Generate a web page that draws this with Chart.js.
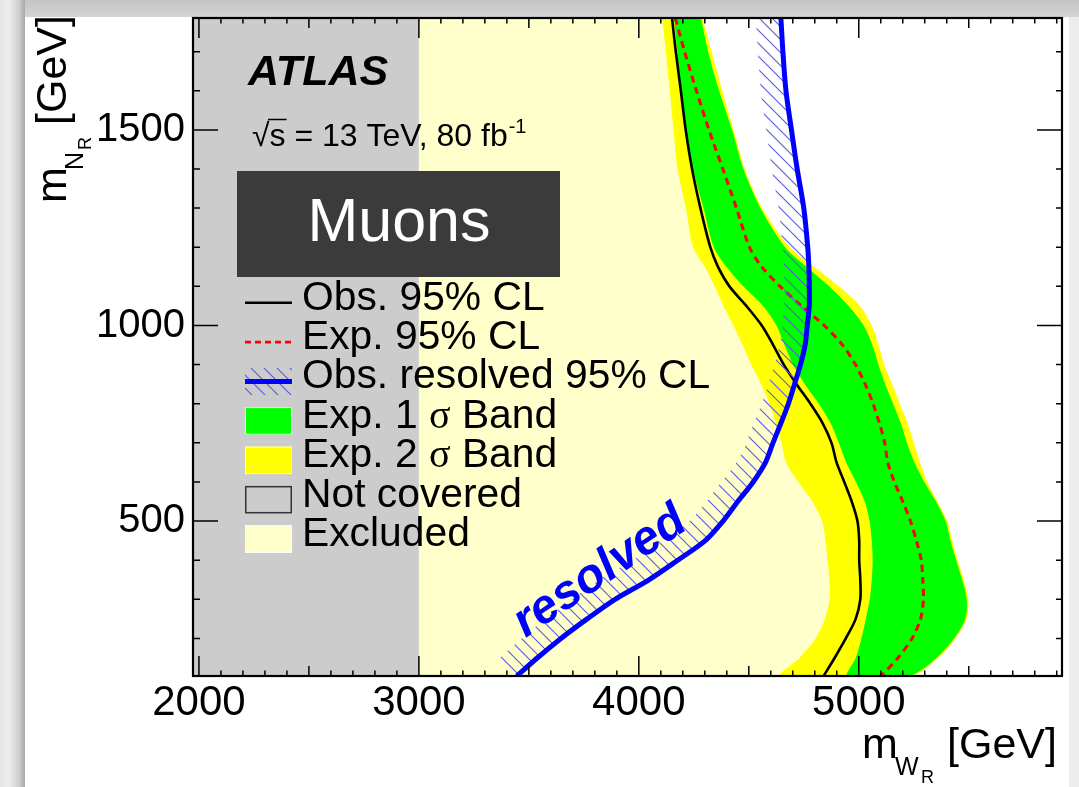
<!DOCTYPE html>
<html lang="en">
<head>
<meta charset="utf-8">
<title>W_R / N_R exclusion limits – muon channel</title>
<script src="https://cdn.jsdelivr.net/npm/chart.js@4.4.1/dist/chart.umd.min.js"></script>
<style>
  html, body { margin: 0; padding: 0; }
  body { width: 1079px; height: 787px; position: relative; overflow: hidden; background: #ececec; }
  .edge-top { position: absolute; left: 0; top: 0; width: 1079px; height: 17px; background: linear-gradient(to bottom, #c3c3c3, #d4d4d4); }
  .edge-left { position: absolute; left: 0; top: 0; width: 25px; height: 787px; background: linear-gradient(to right, #e3e3e3 0%, #eeeeee 35%, #cdcdcd 78%, #a6a6a6 100%); }
  .sheet { position: absolute; left: 25px; top: 17px; width: 1044px; height: 770px; background: #ffffff; }
  canvas { position: absolute; left: 0; top: 0; }
</style>
</head>
<body>
<div class="edge-top"></div>
<div class="edge-left"></div>
<div class="sheet"></div>
<canvas id="limits" width="1079" height="787"></canvas>
<script>
const SANS = "'Liberation Sans', Arial, Helvetica, sans-serif";
const SERIF = "'Liberation Serif', 'Times New Roman', serif";

// Axis ranges (GeV)
const mWRange = [1973, 5924];
const mNRange = [104, 1786];
const mWTicks = [2000, 3000, 4000, 5000];
const mNTicks = [500, 1000, 1500];
const minorStep = 100;

// Upper edge of the m(W_R) region not covered by this search (GeV)
const coverageEdge = 3000;

// m(N_R) values at which every contour is sampled (GeV)
const mN = [1786, 1700, 1600, 1500, 1400, 1300, 1200, 1150, 1100, 1050, 1000, 950, 900, 850,
            800, 750, 700, 650, 600, 550, 500, 450, 400, 350, 300, 250, 200, 150, 104];

// m(W_R) reach of each contour at those m(N_R) values (GeV)
const obsLimit = [4151, 4168, 4191, 4213, 4242, 4280, 4325, 4360, 4412, 4489, 4559, 4611, 4659, 4717,
                  4780, 4836, 4876, 4899, 4934, 4968, 4994, 5002, 5002, 5007, 5007, 4986, 4941, 4890, 4840];
const expLimit = [4166, 4208, 4262, 4319, 4382, 4444, 4503, 4559, 4642, 4739, 4843, 4926, 4985, 5029,
                  5065, 5094, 5118, 5132, 5162, 5200, 5235, 5262, 5284, 5291, 5294, 5281, 5242, 5178, 5101];
const exp1SigmaLow = [4160, 4175, 4193, 4216, 4247, 4294, 4341, 4398, 4475, 4565, 4626, 4662, 4701, 4755,
                      4818, 4872, 4909, 4943, 4987, 5027, 5049, 5059, 5063, 5059, 5050, 5032, 5012, 4986, 4950];
const exp1SigmaHigh = [4283, 4315, 4365, 4424, 4476, 4553, 4665, 4762, 4865, 4954, 5022, 5062, 5089, 5120,
                       5156, 5191, 5219, 5253, 5298, 5351, 5395, 5417, 5443, 5470, 5491, 5484, 5433, 5353, 5229];
const exp2SigmaLow = [4106, 4123, 4141, 4158, 4176, 4214, 4247, 4300, 4345, 4385, 4430, 4472, 4511, 4556,
                      4594, 4623, 4649, 4670, 4725, 4789, 4833, 4849, 4858, 4867, 4867, 4846, 4804, 4730, 4646];
const exp2SigmaHigh = [4289, 4331, 4380, 4431, 4482, 4561, 4685, 4796, 4909, 5005, 5059, 5090, 5115, 5152,
                       5186, 5222, 5250, 5279, 5311, 5358, 5402, 5425, 5450, 5477, 5498, 5490, 5440, 5360, 5236];
const resolvedObsLimit = [4646, 4655, 4669, 4694, 4720, 4750, 4768, 4773, 4775, 4775, 4766, 4756, 4735, 4708,
                          4680, 4646, 4610, 4576, 4520, 4450, 4383, 4302, 4177, 4046, 3892, 3765, 3646, 3538, 3445];

// Text
const experimentLabel = 'ATLAS';
const energyLumi = ['√', 's', ' = 13 TeV, 80 fb', '-1'];
const channelLabel = 'Muons';
const resolvedTag = 'resolved';
const legendLabels = ['Obs. 95% CL', 'Exp. 95% CL', 'Obs. resolved 95% CL',
                      'Exp. 1 σ Band', 'Exp. 2 σ Band', 'Not covered', 'Excluded'];

// Colours
const C = {
  obs: '#000000', exp: '#ff0000', resolved: '#0000ff', hatch: '#5a5ae2',
  one: '#00ff00', two: '#ffff00', excluded: '#ffffcc', notCovered: '#cccccc', box: '#3b3b3b'
};

// ---- helpers building point lists from the arrays above ----
const pts = xs => xs.map((v, i) => ({ x: v, y: mN[i] }));
const band = (lo, hi) => pts(lo).concat(pts(hi).reverse());
const excludedShape = [{ x: coverageEdge, y: mNRange[1] }, ...pts(obsLimit), { x: coverageEdge, y: mNRange[0] }];
const notCoveredShape = [
  { x: mWRange[0], y: mNRange[0] }, { x: mWRange[0], y: mNRange[1] },
  { x: coverageEdge, y: mNRange[1] }, { x: coverageEdge, y: mNRange[0] }
];

// Diagonal hatch used on the excluded side of the resolved contour
function makeHatch(color, s) {
  const c = document.createElement('canvas');
  c.width = s; c.height = s;
  const g = c.getContext('2d');
  g.strokeStyle = color; g.lineWidth = 1.1;
  g.beginPath();
  g.moveTo(-1, -1); g.lineTo(s + 1, s + 1);
  g.moveTo(s - 1, -1); g.lineTo(s + 1, 1);
  g.moveTo(-1, s - 1); g.lineTo(1, s + 1);
  g.stroke();
  return c;
}
const hatchTile = makeHatch(C.hatch, 13);
const hatchWidth = 25;

const common = { showLine: true, pointRadius: 0, pointHoverRadius: 0, clip: 0 };
const datasets = [
  { ...common, label: 'resolved', data: pts(resolvedObsLimit), borderColor: C.resolved, borderWidth: 5, tension: 0.3, fill: false, order: 1 },
  { ...common, label: 'obs', data: pts(obsLimit), borderColor: C.obs, borderWidth: 2.6, tension: 0.3, fill: false, order: 2 },
  { ...common, label: 'exp', data: pts(expLimit), borderColor: C.exp, borderWidth: 3, borderDash: [7, 5], tension: 0.3, fill: false, order: 3 },
  { ...common, label: 'exp1', data: band(exp1SigmaLow, exp1SigmaHigh), backgroundColor: C.one, borderWidth: 0, tension: 0.3, fill: 'shape', order: 4 },
  { ...common, label: 'exp2', data: band(exp2SigmaLow, exp2SigmaHigh), backgroundColor: C.two, borderWidth: 0, tension: 0.3, fill: 'shape', order: 5 },
  { ...common, label: 'excluded', data: excludedShape, backgroundColor: C.excluded, borderWidth: 0, tension: 0, fill: 'shape', order: 6 },
  { ...common, label: 'notCovered', data: notCoveredShape, backgroundColor: C.notCovered, borderWidth: 0, tension: 0, fill: 'shape', order: 7 }
];

// Hatched strip drawn just before the resolved contour, on its excluded (left) side
const resolvedHatch = {
  id: 'resolvedHatch',
  beforeDatasetDraw(chart, args) {
    if (chart.data.datasets[args.index].label !== 'resolved') return;
    const { ctx, chartArea: a } = chart;
    const line = args.meta.dataset;
    const p = args.meta.data;
    const first = p[0], last = p[p.length - 1];
    ctx.save();
    ctx.beginPath();
    ctx.rect(a.left, a.top, a.right - a.left, a.bottom - a.top);
    ctx.clip();
    ctx.beginPath();
    line.path(ctx);
    ctx.lineTo(last.x, a.bottom + 60);
    ctx.lineTo(a.left - 60, a.bottom + 60);
    ctx.lineTo(a.left - 60, a.top - 60);
    ctx.lineTo(first.x, a.top - 60);
    ctx.closePath();
    ctx.clip();
    ctx.beginPath();
    line.path(ctx);
    ctx.lineWidth = 2 * hatchWidth;
    ctx.lineJoin = 'round';
    ctx.strokeStyle = ctx.createPattern(hatchTile, 'repeat');
    ctx.stroke();
    ctx.restore();
  }
};

// Labels, channel box, legend and axis titles
const annotations = {
  id: 'annotations',
  afterDatasetsDraw(chart) {
    const { ctx } = chart;
    ctx.save();
    ctx.textAlign = 'left';
    ctx.textBaseline = 'alphabetic';

    // tag along the resolved contour
    ctx.save();
    ctx.translate(600, 572);
    ctx.rotate(-34 * Math.PI / 180);
    ctx.font = `bold italic 48px ${SANS}`;
    ctx.fillStyle = C.resolved;
    ctx.textAlign = 'center';
    ctx.textBaseline = 'middle';
    ctx.fillText(resolvedTag, 0, 0);
    ctx.restore();

    // experiment label
    ctx.fillStyle = '#000';
    ctx.font = `bold italic 43px ${SANS}`;
    ctx.fillText(experimentLabel, 248, 85);

    // centre-of-mass energy and luminosity
    ctx.font = `32px ${SANS}`;
    let x = 252;
    const base = 146;
    ctx.fillText(energyLumi[0], x, base);
    x += ctx.measureText(energyLumi[0]).width;
    const sW = ctx.measureText(energyLumi[1]).width;
    ctx.fillText(energyLumi[1], x, base);
    ctx.lineWidth = 1.5;
    ctx.strokeStyle = '#000';
    ctx.beginPath();
    ctx.moveTo(x - 1.5, 119.5); ctx.lineTo(x + sW + 1, 119.5);
    ctx.stroke();
    x += sW;
    ctx.fillText(energyLumi[2], x, base);
    x += ctx.measureText(energyLumi[2]).width;
    ctx.font = `20px ${SANS}`;
    ctx.fillText(energyLumi[3], x + 1, 133);

    // channel box
    ctx.fillStyle = C.box;
    ctx.fillRect(237, 171, 323, 106);
    ctx.fillStyle = '#ffffff';
    ctx.font = `61px ${SANS}`;
    ctx.textAlign = 'center';
    ctx.fillText(channelLabel, 399, 241);
    ctx.textAlign = 'left';

    // legend
    const lx0 = 245, lw = 47, tx = 302;
    const hatchPattern = ctx.createPattern(hatchTile, 'repeat');
    legendLabels.forEach((label, i) => {
      const cy = 302.7 + i * 39.4;
      ctx.save();
      if (i === 0 || i === 1) {
        ctx.strokeStyle = i === 0 ? C.obs : C.exp;
        ctx.lineWidth = 2.6;
        if (i === 1) ctx.setLineDash([6, 4]);
        ctx.beginPath(); ctx.moveTo(lx0, cy); ctx.lineTo(lx0 + lw, cy); ctx.stroke();
      } else if (i === 2) {
        ctx.fillStyle = hatchPattern;
        ctx.fillRect(lx0, cy - 13.5, lw, 27);
        ctx.strokeStyle = C.resolved; ctx.lineWidth = 5;
        ctx.beginPath(); ctx.moveTo(lx0, cy); ctx.lineTo(lx0 + lw, cy); ctx.stroke();
      } else {
        const fills = { 3: C.one, 4: C.two, 5: C.notCovered, 6: C.excluded };
        ctx.fillStyle = fills[i];
        ctx.fillRect(lx0, cy - 13.8, lw, 27.6);
        if (i === 5) {
          ctx.strokeStyle = '#333'; ctx.lineWidth = 1.5;
          ctx.strokeRect(lx0 + 0.75, cy - 13, lw - 1.5, 26);
        } else {
          ctx.strokeStyle = 'rgba(255,255,255,0.8)'; ctx.lineWidth = 1;
          ctx.strokeRect(lx0 + 0.5, cy - 13.3, lw - 1, 26.6);
        }
      }
      ctx.restore();
      ctx.fillStyle = '#000';
      const ty = cy + 6.8;
      const parts = label.split('σ');
      ctx.font = `40.8px ${SANS}`;
      if (parts.length === 1) {
        ctx.fillText(label, tx, ty);
      } else {
        let px = tx;
        ctx.fillText(parts[0], px, ty);
        px += ctx.measureText(parts[0]).width;
        ctx.font = `40px ${SERIF}`;
        ctx.fillText('σ', px, ty);
        px += ctx.measureText('σ').width;
        ctx.font = `40.8px ${SANS}`;
        ctx.fillText(parts[1], px, ty);
      }
    });

    // x-axis title: m_{W_R} [GeV]
    ctx.fillStyle = '#000';
    ctx.font = `43px ${SANS}`; ctx.fillText('m', 862, 758);
    ctx.font = `25px ${SANS}`; ctx.fillText('W', 895, 775);
    ctx.font = `18px ${SANS}`; ctx.fillText('R', 921, 783);
    ctx.font = `43px ${SANS}`; ctx.fillText('[GeV]', 947, 758);

    // y-axis title: m_{N_R} [GeV]
    ctx.save();
    ctx.translate(66, 203);
    ctx.rotate(-Math.PI / 2);
    ctx.font = `43px ${SANS}`; ctx.fillText('m', 0, 0);
    ctx.font = `25px ${SANS}`; ctx.fillText('N', 33, 17);
    ctx.font = `18px ${SANS}`; ctx.fillText('R', 53, 25);
    ctx.font = `43px ${SANS}`; ctx.fillText('[GeV]', 78, 0);
    ctx.restore();

    ctx.restore();
  }
};

// Frame with inward ticks on all four sides
const frameAndTicks = {
  id: 'frameAndTicks',
  afterDraw(chart) {
    const { ctx, chartArea: a, scales: { x, y } } = chart;
    ctx.save();
    ctx.strokeStyle = '#000';
    ctx.lineWidth = 1.5;
    ctx.beginPath();
    for (let v = Math.ceil(mWRange[0] / minorStep) * minorStep; v <= mWRange[1]; v += minorStep) {
      const px = x.getPixelForValue(v);
      const len = v % 1000 === 0 ? 20 : (v % 500 === 0 ? 10 : 5.5);
      ctx.moveTo(px, a.bottom); ctx.lineTo(px, a.bottom - len);
      ctx.moveTo(px, a.top); ctx.lineTo(px, a.top + len);
    }
    for (let v = Math.ceil(mNRange[0] / minorStep) * minorStep; v <= mNRange[1]; v += minorStep) {
      const py = y.getPixelForValue(v);
      const major = v % 500 === 0;
      ctx.moveTo(a.left, py); ctx.lineTo(a.left + (major ? 25 : 7), py);
      ctx.moveTo(a.right, py); ctx.lineTo(a.right - (major ? 25 : 6), py);
    }
    ctx.stroke();
    ctx.lineWidth = 2.2;
    ctx.strokeRect(a.left, a.top, a.right - a.left, a.bottom - a.top);
    ctx.restore();
  }
};

new Chart(document.getElementById('limits'), {
  type: 'scatter',
  data: { datasets },
  options: {
    responsive: false,
    devicePixelRatio: 1,
    animation: false,
    events: [],
    layout: { padding: { left: 0, right: 17, top: 18, bottom: 0 } },
    plugins: { legend: { display: false }, tooltip: { enabled: false } },
    scales: {
      x: {
        type: 'linear', position: 'bottom', min: mWRange[0], max: mWRange[1],
        grid: { display: false, drawTicks: false }, border: { display: false },
        afterBuildTicks: s => { s.ticks = mWTicks.map(v => ({ value: v })); },
        afterFit: s => { s.height = 111; s.paddingLeft = 0; s.paddingRight = 0; },
        ticks: { callback: v => String(v), font: { family: SANS, size: 42 }, color: '#000', padding: 2, maxRotation: 0, autoSkip: false }
      },
      y: {
        type: 'linear', position: 'left', min: mNRange[0], max: mNRange[1],
        grid: { display: false, drawTicks: false }, border: { display: false },
        afterBuildTicks: s => { s.ticks = mNTicks.map(v => ({ value: v })); },
        afterFit: s => { s.width = 193; s.paddingTop = 0; s.paddingBottom = 0; },
        ticks: { callback: v => String(v), font: { family: SANS, size: 40 }, color: '#000', padding: 8, autoSkip: false }
      }
    }
  },
  plugins: [resolvedHatch, annotations, frameAndTicks]
});
</script>
</body>
</html>
